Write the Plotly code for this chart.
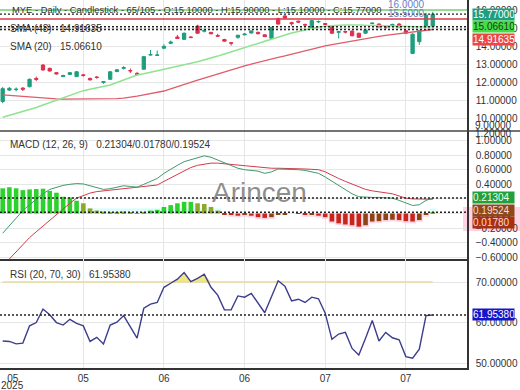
import plotly.graph_objects as go

# ---------------- data ----------------
bars = list(range(65))

opens = [10.92, 11.55, 11.58, 11.66, 11.74, 12.20, 12.94, 12.76, 12.52, 12.30,
         12.42, 12.30, 12.40, 12.20, 12.28, 11.98, 12.15, 12.58, 12.76, 12.64,
         12.48, 12.71, 13.50, 13.48, 13.88, 14.15, 14.50, 14.37, 14.50, 15.11,
         14.82, 14.76, 14.58, 14.36, 14.18, 14.48, 14.62, 14.72, 14.76, 14.62,
         14.43, 15.52, 15.67, 15.30, 15.38, 15.18, 15.04, 15.34, 15.25, 15.11,
         14.76, 14.80, 14.83, 14.71, 14.71, 15.24, 15.22, 15.08, 15.14, 15.22,
         14.85, 13.59, 14.24, 15.07, 15.10]
highs = [11.72, 11.72, 11.70, 11.72, 12.20, 12.30, 13.00, 12.80, 12.55, 12.40,
         12.56, 12.60, 12.45, 12.25, 12.33, 12.03, 12.60, 12.70, 12.88, 12.75,
         12.55, 13.45, 13.78, 13.75, 14.10, 14.30, 14.62, 14.75, 14.55, 15.18,
         14.95, 14.78, 14.68, 14.40, 14.20, 14.62, 14.72, 14.86, 14.80, 14.64,
         15.06, 15.58, 15.72, 15.35, 15.42, 15.25, 15.45, 15.42, 15.27, 15.15,
         14.85, 14.84, 14.86, 14.73, 14.92, 15.30, 15.26, 15.12, 15.24, 15.28,
         14.88, 14.70, 14.90, 15.85, 15.90]
lows = [10.82, 11.50, 11.48, 11.50, 11.70, 12.05, 12.62, 12.58, 12.42, 12.28,
        12.40, 12.28, 12.30, 12.08, 12.18, 11.90, 12.12, 12.55, 12.70, 12.50,
        12.35, 12.68, 13.48, 13.46, 13.82, 14.10, 14.40, 14.33, 14.44, 14.68,
        14.75, 14.65, 14.50, 14.25, 14.02, 14.40, 14.60, 14.70, 14.66, 14.50,
        14.40, 15.18, 15.50, 15.12, 15.28, 15.10, 15.00, 15.28, 15.18, 14.66,
        14.42, 14.70, 14.54, 14.45, 14.68, 15.22, 15.02, 14.95, 15.05, 15.02,
        14.66, 13.55, 14.06, 15.05, 15.10]
closes = [11.63, 11.65, 11.60, 11.60, 12.15, 12.15, 12.67, 12.61, 12.45, 12.36,
          12.52, 12.57, 12.36, 12.12, 12.25, 12.02, 12.57, 12.68, 12.80, 12.62,
          12.42, 13.41, 13.52, 13.50, 13.98, 14.22, 14.42, 14.71, 14.47, 14.71,
          14.86, 14.68, 14.55, 14.27, 14.16, 14.60, 14.66, 14.84, 14.68, 14.52,
          15.04, 15.22, 15.55, 15.24, 15.33, 15.17, 15.41, 15.36, 15.20, 14.71,
          14.80, 14.78, 14.57, 14.48, 14.89, 15.27, 15.07, 15.06, 15.20, 15.07,
          14.71, 14.66, 14.85, 15.72, 15.77]

sma20 = [10.04, 10.14, 10.24, 10.34, 10.44, 10.58, 10.72, 10.86, 11.00, 11.13,
         11.26, 11.39, 11.52, 11.60, 11.68, 11.75, 11.83, 11.97, 12.11, 12.25,
         12.39, 12.46, 12.54, 12.61, 12.69, 12.76, 12.85, 12.94, 13.04, 13.13,
         13.22, 13.33, 13.44, 13.56, 13.67, 13.78, 13.90, 14.02, 14.14, 14.26,
         14.38, 14.50, 14.62, 14.72, 14.81, 14.90, 15.00, 15.05, 15.10, 15.15,
         15.16, 15.17, 15.18, 15.17, 15.15, 15.14, 15.12, 15.11, 15.10, 15.08,
         15.07, 15.05, 15.04, 15.05, 15.0661]
sma48 = [11.28, 11.25, 11.22, 11.18, 11.15, 11.12, 11.10, 11.08, 11.06, 11.05,
         11.05, 11.05, 11.05, 11.05, 11.05, 11.06, 11.06, 11.08, 11.11, 11.15,
         11.21, 11.28, 11.35, 11.42, 11.50, 11.62, 11.75, 11.87, 11.98, 12.10,
         12.22, 12.34, 12.46, 12.58, 12.69, 12.80, 12.90, 13.00, 13.10, 13.20,
         13.29, 13.37, 13.45, 13.55, 13.65, 13.75, 13.84, 13.93, 14.01, 14.08,
         14.15, 14.22, 14.29, 14.36, 14.42, 14.48, 14.54, 14.59, 14.64, 14.68,
         14.72, 14.77, 14.82, 14.87, 14.91635]

macd = [-0.27, -0.17, -0.06, 0.04, 0.12, 0.20, 0.27, 0.33, 0.36, 0.385,
        0.40, 0.41, 0.405, 0.38, 0.35, 0.33, 0.34, 0.36, 0.38, 0.37,
        0.36, 0.40, 0.44, 0.48, 0.55, 0.61, 0.66, 0.71, 0.74, 0.77,
        0.79, 0.77, 0.73, 0.69, 0.65, 0.62, 0.60, 0.59, 0.58, 0.55,
        0.57, 0.61, 0.61, 0.60, 0.60, 0.59, 0.57, 0.55, 0.50, 0.44,
        0.38, 0.32, 0.27, 0.23, 0.22, 0.22, 0.22, 0.21, 0.21, 0.18,
        0.14, 0.11, 0.12, 0.18, 0.21304]
signal = [-0.72, -0.62, -0.52, -0.42, -0.33, -0.25, -0.17, -0.09, -0.02, 0.06,
          0.14, 0.21, 0.25, 0.28, 0.30, 0.31, 0.32, 0.33, 0.34, 0.345,
          0.355, 0.365, 0.375, 0.39, 0.44, 0.49, 0.54, 0.59, 0.63, 0.66,
          0.68, 0.69, 0.69, 0.68, 0.67, 0.66, 0.65, 0.64, 0.63, 0.625,
          0.62, 0.62, 0.62, 0.615, 0.61, 0.61, 0.605, 0.60, 0.57, 0.52,
          0.48, 0.44, 0.40, 0.36, 0.33, 0.31, 0.30, 0.285, 0.27, 0.24,
          0.21, 0.20, 0.195, 0.195, 0.19524]
hist = [0.345, 0.36, 0.345, 0.32, 0.33, 0.335, 0.34, 0.31, 0.285, 0.23,
        0.22, 0.175, 0.14, 0.07, 0.04, 0.025, 0.01, 0.015, 0.025, 0.015,
        0.003, 0.015, 0.04, 0.05, 0.09, 0.115, 0.14, 0.16, 0.16, 0.14,
        0.13, 0.09, 0.04, -0.01, -0.02, -0.03, -0.02, -0.03, -0.05, -0.06,
        -0.05, -0.01, -0.01, 0.0, -0.005, -0.02, -0.02, -0.03, -0.05, -0.11,
        -0.135, -0.15, -0.16, -0.18, -0.16, -0.11, -0.105, -0.09, -0.085, -0.09,
        -0.105, -0.11, -0.09, -0.02, 0.0178]

rsi = [55.6, 55.5, 54.9, 55.1, 59.3, 60.1, 63.4, 62.0, 60.1, 59.5,
       60.9, 59.9, 59.3, 55.5, 56.5, 54.9, 59.5, 60.2, 61.8, 59.1,
       56.3, 63.6, 64.6, 65.0, 68.7, 69.7, 70.7, 72.3, 70.1, 70.9,
       71.9, 68.7, 66.8, 63.2, 63.2, 66.6, 66.3, 67.2, 64.8, 62.5,
       66.4, 70.3, 69.0, 65.4, 65.8, 65.0, 66.3, 65.9, 62.4, 56.0,
       57.3, 57.7, 53.8, 52.2, 56.3, 60.6, 55.6, 57.7, 56.4, 55.9,
       51.8, 51.4, 53.6, 61.8, 61.9538]
rsi_upper = 70

alert_levels = [16.0, 15.5]
alert_labels = ["16.0000", "15.5000"]

x_tick_vals = [1.5, 12, 24, 36, 48, 60]
x_tick_text = ["05", "05", "06", "06", "07", "07"]
x_year_label = "2025"
x_grid_vals = [12, 24, 36, 48, 60]
price_tick_vals = [10, 11, 12, 13, 14, 15, 16]
clamped_labels = ["9.00000", "1.20000"]

symbol = "MYE"
period = "Daily"
chart_type = "Candlestick"
bars_shown = "65/105"

# ---------------- geometry / style ----------------
W, H = 520, 390
MR, MB = 53, 22
PW, PH = W - MR, H - MB          # plot area 467 x 368
PRICE_BOT, MACD_BOT = 131, 259   # pane borders in px from top
FONT = "Liberation Sans, Arial, sans-serif"
TXT = "#333333"
GRID = "#e6e6e6"
UP, DN = "#1f9e7e", "#e0304e"


def pyp(px):
    return 1 - px / PH


price_range = [9.278, 16.556]
macd_range = [-0.623, 1.13]
rsi_range = [49.02, 75.61]
x_range = [-0.4, 69.1]

fig = go.Figure()

# ---- price pane ----
fig.add_trace(go.Candlestick(
    x=bars, open=opens, high=highs, low=lows, close=closes,
    increasing=dict(line=dict(color=UP, width=1), fillcolor=UP),
    decreasing=dict(line=dict(color=DN, width=1), fillcolor=DN),
    whiskerwidth=0, xaxis="x", yaxis="y", showlegend=False, hoverinfo="skip"))
fig.add_trace(go.Scatter(x=bars, y=sma48, mode="lines", line=dict(color="#e25b6a", width=1.3),
                         xaxis="x", yaxis="y", showlegend=False, hoverinfo="skip"))
fig.add_trace(go.Scatter(x=bars, y=sma20, mode="lines", line=dict(color="#8fe38f", width=1.5),
                         xaxis="x", yaxis="y", showlegend=False, hoverinfo="skip"))

# ---- MACD pane ----
GREEN, OLIVE, RED, BROWN = "#2bd22b", "#8ea82a", "#c8261a", "#8c4412"
CYAN, PINK = "rgba(205,250,250,0.75)", "rgba(255,205,225,0.8)"
hist_colors, halo_vals, halo_cols = [], [], []
for i, v in enumerate(hist):
    prev = hist[i - 1] if i else v
    if v >= 0:
        hist_colors.append(GREEN if (v >= 0.15 or (v > prev and v >= 0.03)) else OLIVE)
    else:
        hist_colors.append(RED if v < prev else BROWN)
    if 0.001 < v < 0.17:
        halo_vals.append(0.07); halo_cols.append(CYAN)
    elif v < -0.015:
        halo_vals.append(v - 0.025); halo_cols.append(PINK)
    else:
        halo_vals.append(0); halo_cols.append(CYAN)

fig.add_trace(go.Bar(x=bars, y=halo_vals, width=1.0, marker=dict(color=halo_cols, line_width=0),
                     xaxis="x2", yaxis="y2", showlegend=False, hoverinfo="skip"))
fig.add_trace(go.Bar(x=bars, y=hist, width=0.68, marker=dict(color=hist_colors, line_width=0),
                     xaxis="x2", yaxis="y2", showlegend=False, hoverinfo="skip"))
fig.add_trace(go.Scatter(x=bars, y=signal, mode="lines", line=dict(color="#d23c4c", width=1),
                         xaxis="x2", yaxis="y2", showlegend=False, hoverinfo="skip"))
fig.add_trace(go.Scatter(x=bars, y=macd, mode="lines", line=dict(color="#3f9a6c", width=1),
                         xaxis="x2", yaxis="y2", showlegend=False, hoverinfo="skip"))

# ---- RSI pane ----
fig.add_trace(go.Scatter(x=bars, y=[rsi_upper] * len(bars), mode="lines",
                         line=dict(color="#e8dc9c", width=1.6),
                         xaxis="x3", yaxis="y3", showlegend=False, hoverinfo="skip"))
fig.add_trace(go.Scatter(x=bars, y=[max(v, rsi_upper) for v in rsi], mode="lines",
                         line=dict(width=0), fill="tonexty", fillcolor="rgba(236,226,110,0.85)",
                         xaxis="x3", yaxis="y3", showlegend=False, hoverinfo="skip"))
fig.add_trace(go.Scatter(x=bars, y=rsi, mode="lines", line=dict(color="#3d3d8f", width=1.4),
                         xaxis="x3", yaxis="y3", showlegend=False, hoverinfo="skip"))

# ---------------- axes ----------------
minor_grid = dict(tickmode="array", tickvals=x_grid_vals, showgrid=True, gridcolor=GRID,
                  gridwidth=1, ticks="")
xcommon = dict(range=x_range, showgrid=False, zeroline=False, minor=minor_grid, automargin=False,
               tickmode="array", tickvals=x_tick_vals, ticktext=x_tick_text, ticks="")
ycommon = dict(side="right", showgrid=True, gridcolor=GRID, zeroline=False, showline=True,
               linecolor="#333333", linewidth=1.5, ticks="", ticklabelstandoff=5, automargin=False,
               tickfont=dict(size=10, color=TXT, family=FONT), tickformat=".5f")

fig.update_layout(
    width=W, height=H, margin=dict(l=0, r=MR, t=0, b=MB, autoexpand=False),
    paper_bgcolor="white", plot_bgcolor="white", barmode="overlay",
    font=dict(family=FONT, size=10, color=TXT), showlegend=False,
    xaxis=dict(xcommon, anchor="y", showticklabels=False, rangeslider=dict(visible=False)),
    xaxis2=dict(xcommon, anchor="y2", matches="x", showticklabels=False,
                showline=True, linecolor="#333333", linewidth=1.5),
    xaxis3=dict(xcommon, anchor="y3", matches="x", showticklabels=True,
                showline=True, linecolor="#333333", linewidth=1.5,
                tickfont=dict(size=10, color=TXT, family=FONT)),
    yaxis=dict(ycommon, domain=[pyp(PRICE_BOT), 1], anchor="x", range=price_range,
               tickmode="array", tickvals=price_tick_vals),
    yaxis2=dict(ycommon, domain=[pyp(MACD_BOT), pyp(PRICE_BOT)], anchor="x2",
                range=macd_range, tick0=0, dtick=0.2),
    yaxis3=dict(ycommon, domain=[0, pyp(MACD_BOT)], anchor="x3", range=rsi_range,
                tick0=50, dtick=10),
)

shapes = []
# alert levels
for lvl, col in zip(alert_levels, ["#74d474", "#dc3848"]):
    shapes.append(dict(type="line", xref="paper", x0=0, x1=1, yref="y", y0=lvl, y1=lvl,
                       line=dict(color=col, width=1.5)))
# dotted last-value lines
dot = dict(color="#222222", width=1.4, dash="2px,2px")
for v in [closes[-1], sma20[-1], sma48[-1]]:
    shapes.append(dict(type="line", xref="paper", x0=0, x1=1, yref="y", y0=v, y1=v, line=dot))
for v in [macd[-1], hist[-1]]:
    shapes.append(dict(type="line", xref="paper", x0=0, x1=1, yref="y2", y0=v, y1=v, line=dot))
shapes.append(dict(type="line", xref="paper", x0=0, x1=1, yref="y3", y0=rsi[-1], y1=rsi[-1], line=dot))
# pane separator (price / MACD) running across the axis column
shapes.append(dict(type="line", xref="paper", x0=0, x1=W / PW, yref="paper",
                   y0=pyp(PRICE_BOT), y1=pyp(PRICE_BOT), line=dict(color="#444444", width=1.5)))
# pink highlight behind MACD tags
shapes.append(dict(type="rect", xref="paper", x0=463 / PW, x1=W / PW, yref="paper",
                   y0=pyp(231), y1=pyp(207), fillcolor="#ffd3e4", line=dict(width=0), layer="below"))
fig.update_layout(shapes=shapes)

ann = []
TAGX = (PW + 5) / PW


def add_tags(items, yref, px_per_unit, gap=12.3):
    # items: (value, text, bg, fg) sorted from highest value; push overlapping tags down
    prev_px = None
    for val, text, bg, fg in items:
        cur = -val * px_per_unit
        shift = 0.0
        if prev_px is not None and cur < prev_px + gap:
            shift = prev_px + gap - cur
        prev_px = cur + shift
        ann.append(dict(xref="paper", x=TAGX, xanchor="left", yref=yref, y=val,
                        yanchor="middle", yshift=-shift, text=text, showarrow=False,
                        bgcolor=bg, font=dict(size=10, color=fg, family=FONT),
                        width=41, height=11, align="left", borderpad=0))


price_ppu = PRICE_BOT / (price_range[1] - price_range[0])
macd_ppu = (MACD_BOT - PRICE_BOT) / (macd_range[1] - macd_range[0])
rsi_ppu = (PH - MACD_BOT) / (rsi_range[1] - rsi_range[0])

add_tags([(closes[-1], f"{closes[-1]:.5f}", "#1f9e7e", "white"),
          (sma20[-1], f"{sma20[-1]:.5f}", "#45dd45", "#1a3a1a"),
          (sma48[-1], f"{sma48[-1]:.5f}", "#ec4646", "white")], "y", price_ppu)
add_tags([(macd[-1], f"{macd[-1]:.5f}", "#22a03e", "#e8ffe8"),
          (signal[-1], f"{signal[-1]:.5f}", "#8a4a1c", "#ffd8d8"),
          (hist[-1], f"{hist[-1]:.5f}", "#a8300e", "#ffd8d8")], "y2", macd_ppu)
add_tags([(rsi[-1], f"{rsi[-1]:.5f}", "#1414c8", "white")], "y3", rsi_ppu)

# axis labels clamped at the pane joint
for lab, ypx in zip(clamped_labels, [125, 133]):
    ann.append(dict(xref="paper", x=(PW + 6) / PW, xanchor="left", yref="paper", y=pyp(ypx),
                    yanchor="middle", text=lab, showarrow=False,
                    font=dict(size=10, color=TXT, family=FONT)))

# year under the first date label
ann.append(dict(xref="x3", x=x_tick_vals[0], xanchor="center", yref="paper", y=pyp(385),
                yanchor="middle", text=x_year_label, showarrow=False,
                font=dict(size=10, color=TXT, family=FONT)))

# alert level labels
for lvl, lab in zip(alert_levels, alert_labels):
    ann.append(dict(xref="paper", x=427 / PW, xanchor="right", yref="y", y=lvl,
                    yanchor="bottom", yshift=-2, text=lab, showarrow=False,
                    font=dict(size=10, color="#6a7fc4", family=FONT)))

# legends / headers
sp = "\u00a0\u00a0\u00a0"
headers = [
    (f"{symbol} - {period} - {chart_type} - {bars_shown} - O:{opens[-1]:.5f} - H:{highs[-1]:.5f}"
     f" - L:{lows[-1]:.5f} - C:{closes[-1]:.5f}", 9, 10, 9.4),
    (f"SMA (48){sp}{sma48[-1]:.5f}", 29, 8, 10),
    (f"SMA (20){sp}{sma20[-1]:.5f}", 46, 8, 10),
    (f"MACD (12, 26, 9){sp}{macd[-1]:.5f}/{hist[-1]:.5f}/{signal[-1]:.5f}", 144, 8, 10),
    (f"RSI (20, 70, 30){sp}{rsi[-1]:.5f}", 274, 8, 10),
]
for text, ypx, xpx, fs in headers:
    ann.append(dict(xref="paper", x=xpx / PW, xanchor="left", yref="paper", y=pyp(ypx),
                    yanchor="middle", text=text, showarrow=False,
                    font=dict(size=fs, color=TXT, family=FONT)))

# watermark
ann.append(dict(xref="paper", x=259 / PW, xanchor="center", yref="paper", y=pyp(192),
                yanchor="middle", text="Arincen", showarrow=False,
                font=dict(size=28, color="rgba(105,105,105,0.75)", family=FONT)))

fig.update_layout(annotations=ann)

fig.write_html("out.html", config={"displayModeBar": False},
               post_script="document.body.style.margin='0';document.body.style.padding='0';")
